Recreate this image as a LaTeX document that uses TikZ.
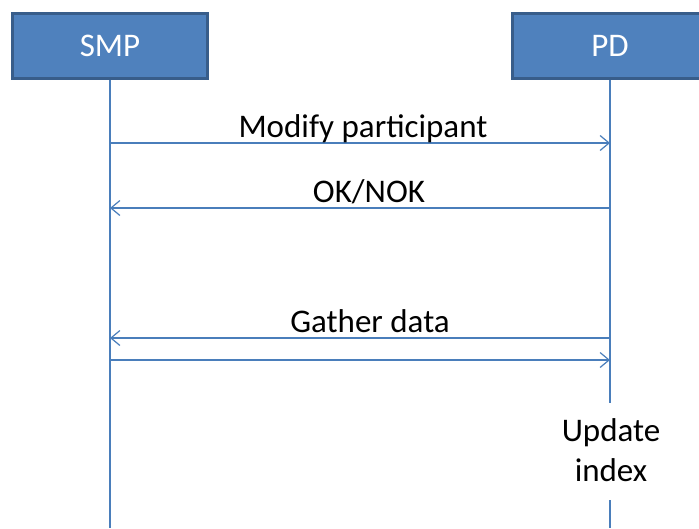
\documentclass[tikz,border=0pt]{standalone}
\usepackage{fontspec}
\setmainfont{Carlito}
\usetikzlibrary{arrows.meta}
\definecolor{boxfill}{HTML}{4F81BD}
\definecolor{boxedge}{HTML}{385D8A}
\definecolor{linecol}{HTML}{4A7EBB}
\tikzset{
  actor/.style={draw=boxedge, fill=boxfill, line width=3pt, minimum width=195pt, minimum height=65pt, inner sep=0pt, text=white, font=\fontsize{33}{40}\selectfont},
  lifeline/.style={draw=linecol, line width=1.2pt},
  msg/.style={draw=linecol, line width=1.2pt, -{Straight Barb[length=9pt,width=15pt,line width=1.2pt]}},
  lbl/.style={anchor=base, inner sep=0pt, font=\fontsize{33}{40}\selectfont},
}
\begin{document}
\begin{tikzpicture}[x=1pt,y=-1pt]
\useasboundingbox (0,0) rectangle (699,528);
\node[actor] (smp) at (110,45.5) {SMP};
\node[actor] (pd) at (610,45.5) {PD};
\coordinate (smpend) at (110,528);
\coordinate (pdgap1) at (610,403);
\coordinate (pdgap2) at (610,500);
\coordinate (pdend) at (610,528);
\draw[lifeline] (smp.south) -- (smpend);
\draw[lifeline] (pd.south) -- (pdgap1);
\draw[lifeline] (pdgap2) -- (pdend);
% message anchors
\coordinate (s1) at (110,143); \coordinate (p1) at (610,143);
\coordinate (s2) at (110,208); \coordinate (p2) at (610,208);
\coordinate (s3) at (110,338); \coordinate (p3) at (610,338);
\coordinate (s4) at (110,360); \coordinate (p4) at (610,360);
\draw[msg] (s1) -- (p1);
\draw[msg] (p2) -- (s2);
\draw[msg] (p3) -- (s3);
\draw[msg] (s4) -- (p4);
\node[lbl] (l1) at (363,137) {Modify participant};
\node[lbl] (l2) at (369,202) {OK/NOK};
\node[lbl] (l3) at (370,332) {Gather data};
\node[align=center, inner sep=0pt, font=\fontsize{33}{40}\selectfont] (upd) at (611,450) {Update\\index};
\end{tikzpicture}
\end{document}
